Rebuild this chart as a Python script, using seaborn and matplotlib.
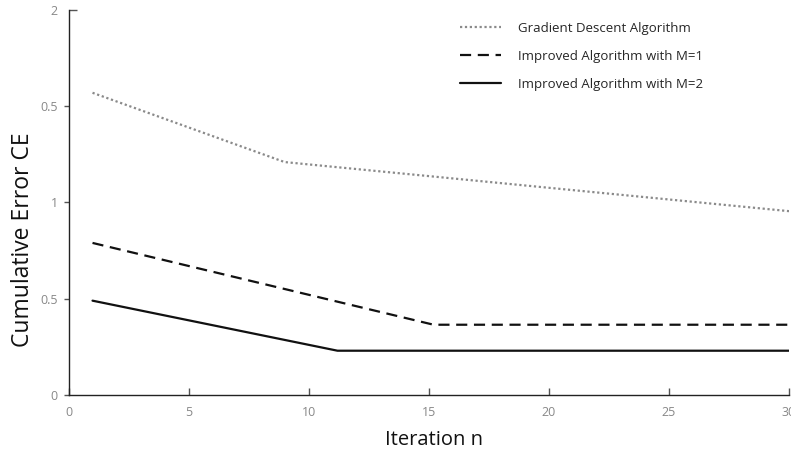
import pandas as pd
import seaborn as sns
import matplotlib.lines as mlines
from matplotlib import pyplot as plt

# Data
series_names = ['Gradient Descent Algorithm', 'Improved Algorithm with M=1', 'Improved Algorithm with M=2']
n_gd = [1, 9, 30]
ce_gd = [1.57, 1.21, 0.955]
n_m1 = [1, 15.2, 30]
ce_m1 = [0.79, 0.365, 0.365]
n_m2 = [1, 11.2, 30]
ce_m2 = [0.49, 0.23, 0.23]

x_ticks = [0, 5, 10, 15, 20, 25, 30]
y_ticks = [0, 0.5, 1, 1.5, 2]
y_tick_labels = ['0', '0.5', '1', '0.5', '2']  # as printed on the original

df = pd.concat([
    pd.DataFrame({'n': n_gd, 'CE': ce_gd, 'series': series_names[0]}),
    pd.DataFrame({'n': n_m1, 'CE': ce_m1, 'series': series_names[1]}),
    pd.DataFrame({'n': n_m2, 'CE': ce_m2, 'series': series_names[2]}),
], ignore_index=True)

sns.set_theme(style='white')
plt.rcParams['font.family'] = ['Open Sans', 'DejaVu Sans']

fig = plt.figure(figsize=(7.91, 4.57), dpi=100)
ax = fig.add_axes([0.0866, 0.1357, 0.9109, 0.8424])

palette = {series_names[0]: '#8a8a8a', series_names[1]: '#111111', series_names[2]: '#111111'}
dashes = {series_names[0]: (1, 1.2), series_names[1]: (5, 3), series_names[2]: ''}
sns.lineplot(data=df, x='n', y='CE', hue='series', style='series', palette=palette,
             dashes=dashes, estimator=None, linewidth=1.6, ax=ax)

ax.set_xlim(0, 30)
ax.set_ylim(0, 2)
ax.set_xticks(x_ticks)
ax.set_yticks(y_ticks)
ax.set_yticklabels(y_tick_labels)

for side in ['top', 'right']:
    ax.spines[side].set_visible(False)
for side in ['left', 'bottom']:
    ax.spines[side].set_color('#222222')
    ax.spines[side].set_linewidth(1.0)

ax.tick_params(axis='x', bottom=True, direction='in', length=5, width=1, color='#555555',
               labelcolor='#888888', labelsize=9, pad=8)
ax.tick_params(axis='y', left=True, direction='out', length=3.6, width=1, color='#555555',
               labelcolor='#888888', labelsize=9, pad=4)
# the top y tick points inwards on the original
top_tick = ax.yaxis.get_major_ticks()[-1]
top_tick.tick1line.set_marker(mlines.TICKRIGHT)
top_tick.tick1line.set_markersize(6)

ax.set_xlabel('Iteration n', fontsize=14.5, color='#111111')
ax.xaxis.set_label_coords(0.5066, -0.09)
ax.set_ylabel('Cumulative Error CE', fontsize=16.5, color='#111111')
ax.yaxis.set_label_coords(-0.046, 0.403)

ax.legend(loc='upper left', bbox_to_anchor=(460 / 791, 1 - 22 / 457), bbox_transform=fig.transFigure,
          frameon=False, fontsize=9.5, handlelength=3.1, handletextpad=1.3,
          labelspacing=1.12, borderpad=0, borderaxespad=0)

fig.savefig('out.png', dpi=100)
